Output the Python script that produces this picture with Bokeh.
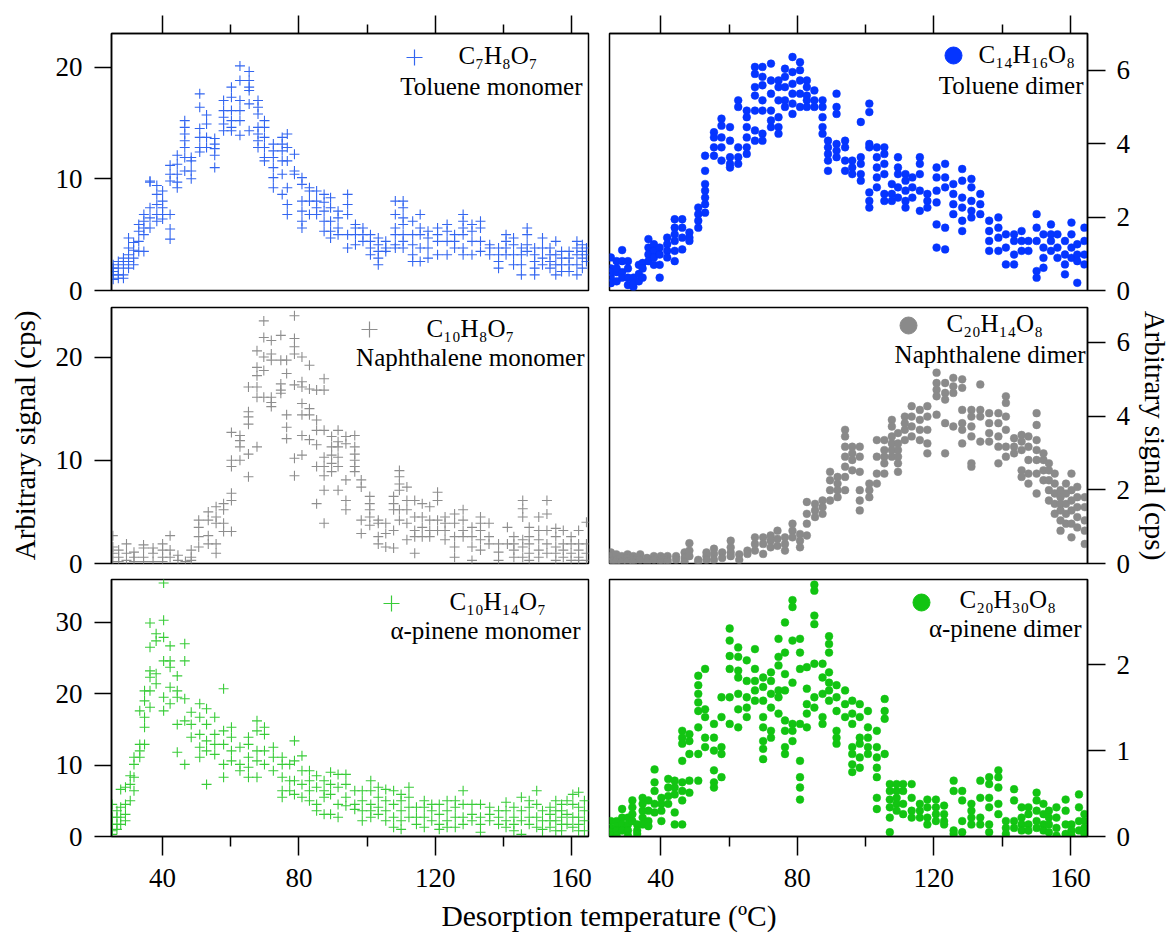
from bokeh.plotting import figure
from bokeh.models import Range1d, FixedTicker, Label
from bokeh.layouts import row, column
from bokeh.embed import file_html
from bokeh.resources import INLINE

FONT = "Liberation Serif"
X_MIN, X_MAX = 25, 165
TEMP_TICKS = [40, 80, 120, 160]
TEMP_MINOR = [60, 100, 140]

# ---------------- data (temperature columns, signal values per column) ----------------
toluene_monomer_temp = [25.5, 27, 28.5, 30, 31.5, 33, 34.5, 36.3, 38.3, 40, 42.2, 44.3, 46.5, 48.4, 50.9,
                        52.9, 55.3, 57.9, 60.2, 62.7, 65.4, 68, 69.9, 72.5, 75.1, 76.6, 78.7, 80.9, 83.1,
                        85.2, 87.4, 89.3, 91.5, 94.3, 96.6, 98.8, 101, 103.3, 105.5, 108.3, 110.6, 113.4,
                        115.6, 117.9, 120.7, 123.5, 125.7, 128.2, 130.8, 133.3, 136, 138.6, 140.8, 143,
                        145.3, 147, 149.2, 151.5, 153.7, 155.4, 157.1, 159.3, 161.6, 163.2, 164.4]
toluene_monomer_signal = [
    [1.4, 2.0, 2.3, 1.7, 1.0], [2.6, 1.4, 1.1, 2.0], [2.9, 2.3, 1.4, 1.1], [3.8, 3.2, 2.6, 2.0, 4.7],
    [4.3, 3.6, 2.9, 2.3], [5.9, 5.3, 4.4, 3.5], [6.8, 6.2, 5.6, 5.0, 3.5], [9.8, 9.7, 7.4, 6.5, 5.6],
    [9.4, 8.6, 7.7, 6.8, 6.2], [8.9, 8.0, 7.4, 6.8, 6.4], [11.2, 10.4, 9.8, 6.8, 5.5, 4.6],
    [12.1, 11.3, 10.4, 9.7, 9.2], [15.2, 14.6, 14.0, 13.4, 12.8, 11.9, 10.7], [11.9, 11.6, 10.7, 10.0],
    [17.6, 16.4, 14.5, 13.7, 12.8, 12.4], [15.7, 14.9, 13.7, 12.8], [13.6, 13.1, 12.7, 12.1, 11.0],
    [17.0, 16.1, 15.5, 14.9, 14.3], [18.2, 17.3, 16.1, 15.2, 14.6, 14.3], [20.1, 18.8, 17.0, 16.1, 15.2, 13.9],
    [19.6, 18.8, 18.2, 17.9, 16.7, 14.3], [17.0, 16.4, 15.8, 14.6, 14.0, 13.4, 12.8],
    [15.2, 14.6, 13.7, 12.8, 11.9, 11.6], [13.1, 12.5, 11.9, 11.0, 10.1, 9.2],
    [13.7, 13.1, 12.5, 11.6, 10.4, 8.6], [14.0, 12.8, 11.6, 9.2, 7.7, 6.8], [12.2, 10.7, 10.4],
    [10.1, 9.5, 8.0, 7.1, 6.2, 5.6], [9.2, 8.9, 8.0, 6.8], [8.9, 8.0, 7.4, 6.8], [8.6, 7.9, 7.1, 6.2, 5.3],
    [8.3, 7.4, 6.2, 5.3, 4.7], [7.1, 6.5, 5.6, 5.0], [8.6, 7.7, 6.8, 5.0, 3.8], [5.9, 5.6, 5.0, 4.1],
    [5.6, 5.0, 4.4], [5.0, 4.4, 3.8, 3.2], [4.7, 4.1, 3.5, 2.9, 2.3], [4.4, 3.8, 3.5],
    [8.0, 6.8, 5.6, 5.0, 4.1, 3.8], [8.0, 7.4, 6.5, 5.9, 5.0, 4.4, 3.8], [6.2, 5.0, 4.1, 3.2, 2.6],
    [6.8, 5.6, 5.0, 3.8, 2.6], [5.3, 4.7, 3.8, 2.9], [5.6, 5.0, 4.4, 3.2], [5.9, 5.3, 4.4, 3.2],
    [5.0, 4.4, 3.8], [6.8, 6.2, 5.6, 5.0, 3.8, 3.2], [5.9, 5.3, 4.4, 3.2], [6.2, 5.6, 4.4, 3.5],
    [4.1, 3.8, 3.2], [3.8, 3.2, 2.6, 2.0], [5.0, 4.4, 3.8, 3.2], [4.7, 4.1, 3.2, 2.3], [3.8, 3.2, 2.3, 1.4],
    [5.6, 5.0, 4.1, 3.5], [3.8, 3.2, 2.6, 2.0, 1.4], [4.7, 3.8, 2.9, 2.3], [3.8, 3.2, 2.6, 2.0],
    [4.4, 3.2, 2.3, 1.4], [3.5, 2.9, 2.3, 1.7], [3.5, 2.9, 2.3, 1.7], [4.4, 3.8, 3.2, 2.3, 1.4],
    [4.1, 3.5, 2.9, 2.0], [3.8, 3.2, 2.6]]

toluene_dimer_temp = [25.4, 27.1, 28.7, 30.4, 32, 33.6, 34.7, 36.4, 38, 39.7, 41.9, 44.1, 46.3, 48.4, 51,
                      53, 55.6, 57.8, 60.3, 62.7, 65.2, 67.6, 69.8, 72.3, 74.5, 76.4, 78.6, 80.8, 82.8,
                      85, 87.4, 89, 91.5, 94, 96.1, 98.6, 101.1, 103.3, 105.5, 107.7, 109.5, 111.7, 113.7,
                      115.9, 118.1, 120.8, 123.3, 125.7, 128.3, 131, 133.6, 136.2, 138.9, 141.1, 143.5,
                      145.7, 147.7, 150.1, 152.1, 154.3, 156.2, 158.4, 160.3, 162, 164.1]
toluene_dimer_signal = [
    [0.9, 0.6, 0.35, 0.2, 0.5], [0.8, 0.5, 0.25, 0.6], [1.1, 0.8, 0.5, 0.35], [0.8, 0.6, 0.35, 0.15],
    [0.35, 0.1, 0.2], [0.7, 0.45, 0.25], [0.75, 0.6, 0.35], [1.4, 1.17, 0.98, 0.8], [1.26, 1.08, 0.9, 0.7],
    [1.17, 0.98, 0.7, 0.35], [1.44, 1.26, 1.08, 0.9], [1.94, 1.71, 1.53, 1.35, 1.08, 0.8],
    [1.94, 1.71, 1.44, 1.12], [1.58, 1.44, 1.35], [2.26, 2.08, 1.9, 1.71],
    [3.67, 3.26, 2.9, 2.72, 2.53, 2.35, 2.12], [4.31, 4.17, 3.9, 3.67], [4.68, 4.49, 4.17, 3.9, 3.54],
    [4.45, 4.08, 3.63, 3.45, 3.35], [5.18, 5.0, 3.9, 3.63, 3.45], [4.9, 4.72, 4.45, 4.17, 3.9, 3.72],
    [6.09, 5.9, 5.54, 5.31, 4.9, 4.36, 4.08], [6.09, 5.82, 5.59, 5.18, 4.9, 4.27, 4.08],
    [6.18, 5.72, 5.36, 4.9, 4.63, 4.45], [5.72, 5.54, 5.18, 4.72, 4.45, 4.27], [6.04, 5.82, 5.54, 5.18, 5.0],
    [6.36, 5.95, 5.63, 5.36, 5.09, 4.81], [6.22, 6.0, 5.72, 5.36, 5.0], [5.72, 5.54, 5.31, 5.18, 5.0],
    [5.45, 5.18, 5.0], [5.18, 5.0, 4.72, 4.45, 4.27], [4.08, 3.9, 3.72, 3.54, 3.26],
    [5.36, 5.0, 4.81, 3.99, 3.81, 3.63], [4.08, 3.9, 3.54, 3.26], [3.54, 3.35, 3.17],
    [4.59, 3.63, 3.45, 3.17, 2.99], [5.09, 4.86, 3.99, 3.9, 2.67, 2.44, 2.26], [3.9, 3.63, 3.35, 3.08, 2.81],
    [3.9, 3.72, 3.45, 3.17, 2.63, 2.44], [2.9, 2.63, 2.44], [3.63, 3.35, 3.17, 2.81, 2.53],
    [3.17, 2.99, 2.72, 2.44, 2.26], [3.08, 2.81, 2.53], [3.63, 3.45, 3.17, 2.72, 2.17], [2.63, 2.44, 2.26],
    [3.35, 3.08, 2.72, 2.4, 1.8, 1.17], [3.45, 3.08, 2.81, 1.71, 1.12], [2.9, 2.63, 2.35, 2.08],
    [3.31, 2.99, 2.53, 2.26, 1.9, 1.62], [3.04, 2.81, 2.44, 2.17, 1.99], [2.63, 2.35, 2.08],
    [1.9, 1.62, 1.35, 1.08], [1.99, 1.71, 1.44, 1.08], [1.53, 1.17, 0.71], [1.53, 1.35, 0.98, 0.71],
    [1.62, 1.35, 1.08], [1.35, 1.08], [2.08, 1.71, 1.35, 0.53, 0.35], [1.53, 1.17, 0.89, 0.62],
    [1.8, 1.53, 1.35, 1.08], [1.53, 1.17, 0.89], [1.35, 0.98, 0.71, 0.44], [1.85, 1.53, 1.17, 0.89],
    [1.26, 0.98, 0.8, 0.21], [1.71, 1.35, 0.98, 0.71]]

naphthalene_monomer_temp = [25.4, 27.1, 29.4, 31.6, 34.4, 37.2, 40, 42.2, 44.5, 46.7, 48.4, 50.6, 53.4, 55.7,
                            57.9, 60.2, 62.7, 65.2, 67.7, 69.7, 71.9, 74.7, 76.4, 78.7, 80.9, 83.1, 85.2,
                            87.4, 89.6, 91.5, 93.8, 96.4, 98.3, 100.8, 103.3, 105.5, 107.8, 109.5, 111.7,
                            114, 116.2, 118.4, 120.7, 122.9, 125.7, 128.2, 130.8, 133.3, 135.8, 138.6,
                            141.2, 143.1, 145.7, 147.6, 150.4, 152.8, 155.4, 157.6, 159.9, 162.1, 164.4]
naphthalene_monomer_signal = [
    [2.7, 1.6, 1.0, 0.2], [1.3, 0.6, 0.2], [1.9, 1.0, 0.3], [1.1, 0.6, 0.2], [1.8, 1.5, 0.6, 0.2],
    [1.5, 1.0, 0.2], [1.9, 1.3, 0.6, 0.2], [2.7, 1.3, 0.6], [0.8, 0.3], [0.2], [1.3, 0.6, 0.3],
    [4.2, 3.5, 2.6, 1.6], [5.0, 4.2, 2.7, 1.9], [5.5, 4.5, 3.9, 1.9, 1.0], [5.8, 5.2, 3.9, 3.1],
    [12.7, 10.0, 9.4, 6.8, 6.1, 3.1], [12.4, 11.9, 11.3, 10.0], [17.1, 14.7, 14.2, 13.5, 10.6, 8.4],
    [20.6, 19.0, 18.2, 17.1, 16.1, 11.3], [23.5, 21.9, 20.0, 18.7, 16.1], [21.6, 20.3, 19.7, 16.1, 15.6, 15.2],
    [22.1, 19.7, 17.4, 16.8, 16.5], [19.7, 18.4, 14.4, 13.2, 12.1], [24.0, 21.8, 21.0, 20.3, 17.3, 10.2, 8.5],
    [20.0, 17.6, 17.1, 15.5, 14.4, 12.4, 10.5], [19.2, 16.9, 15.0, 14.4, 12.0],
    [16.8, 13.9, 12.9, 11.5, 9.4, 5.8], [17.9, 16.8, 12.9, 10.3, 9.4, 8.5, 7.1, 3.9],
    [12.3, 11.3, 10.5, 9.7, 8.9], [12.9, 11.8, 11.3, 10.3, 9.4, 7.1], [12.3, 11.6, 8.1, 6.1, 5.2],
    [12.4, 11.3, 10.6, 10.0, 9.4, 8.9], [8.1, 7.4, 4.2, 2.9], [6.5, 5.8, 5.2, 4.5, 3.7], [4.2, 3.9, 2.6, 1.9],
    [3.9, 2.9, 1.6], [6.5, 5.8, 5.2, 3.2, 1.5], [9.0, 8.4, 7.7, 7.1, 5.2, 4.2], [7.4, 6.1, 5.2, 3.9, 2.3],
    [6.1, 4.5, 3.2, 2.6, 1.0], [5.8, 4.5, 3.5, 2.6], [5.5, 4.2, 3.2, 2.6], [6.9, 6.1, 4.2, 3.2],
    [4.5, 3.9, 3.2, 2.3], [4.8, 3.9, 2.6, 1.6, 0.6], [5.2, 4.2, 3.2, 2.6], [3.5, 2.6, 1.6, 0.3],
    [4.5, 3.9, 3.2, 2.3, 1.3], [3.9, 2.6, 1.9], [1.9, 1.1, 0.3], [3.5, 1.9], [2.6, 1.9, 1.3, 0.6],
    [6.1, 5.3, 4.5, 2.3, 1.6, 0.6], [3.5, 2.6, 1.9, 1.0, 0.3], [4.5, 3.2, 2.3, 1.3, 0.6],
    [6.1, 4.8, 3.2, 1.9, 1.0], [3.4, 2.6, 1.6, 1.0, 0.3], [3.2, 1.9, 1.3, 0.6], [2.6, 1.9, 1.0, 0.3],
    [3.2, 1.9, 1.3, 0.6, 0.3], [4.0, 1.9, 1.0, 0.3]]

naphthalene_dimer_temp = [25.4, 27, 28.6, 30.3, 32, 34, 36, 38, 40, 42, 44.5, 47, 48.4, 51, 53.4, 55.6, 58,
                          60.5, 63, 65.4, 67.6, 70, 72.2, 74.2, 76.4, 78.6, 80.8, 82.8, 85.2, 87.4, 89.6,
                          91.8, 94, 96.1, 98.3, 101.1, 103.3, 105.5, 107.7, 109.5, 111.5, 113.5, 115.9,
                          118.1, 120.8, 123.3, 125.7, 128.3, 131, 133.6, 136.2, 138.9, 141.1, 143.5, 145.7,
                          147.7, 150.1, 152.1, 153.7, 155.4, 157.1, 158.7, 160.3, 162, 164.2]
naphthalene_dimer_signal = [
    [0.3, 0.2, 0.1, 0.05], [0.25, 0.1, 0.03], [0.2, 0.05], [0.25, 0.15, 0.05], [0.2, 0.1, 0.03], [0.25, 0.1],
    [0.15, 0.05], [0.2, 0.1], [0.2, 0.1, 0.03], [0.2, 0.1, 0.05], [0.2, 0.1], [0.3, 0.15, 0.05],
    [0.55, 0.35, 0.2], [0.1, 0.05], [0.3, 0.2, 0.1], [0.4, 0.26, 0.1], [0.3, 0.15], [0.62, 0.44, 0.3, 0.2],
    [0.25, 0.1], [0.35, 0.26], [0.71, 0.53, 0.35], [0.71, 0.53, 0.26], [0.76, 0.62, 0.44],
    [0.89, 0.67, 0.48], [0.71, 0.53, 0.35], [1.08, 0.89, 0.71], [0.8, 0.62, 0.44], [1.67, 1.35, 1.08, 0.76],
    [1.62, 1.44, 1.26], [1.71, 1.53, 1.35], [2.49, 2.26, 1.99, 1.71], [2.35, 2.17, 1.99, 1.8],
    [3.63, 3.45, 3.17, 2.9, 2.63, 2.35, 1.99], [3.17, 2.99, 2.81, 2.53], [3.17, 2.9, 2.49, 1.99, 1.71, 1.44],
    [2.17, 1.99, 1.8], [3.35, 2.9, 2.44, 2.17], [3.35, 3.08, 2.9, 2.72, 2.44],
    [3.9, 3.72, 3.45, 3.26, 3.08, 2.9], [3.54, 3.26, 3.08, 2.9, 2.72, 2.49], [3.99, 3.81, 3.63, 3.35],
    [4.27, 3.99, 3.72, 3.45], [4.17, 3.9, 3.63, 3.35], [4.27, 3.99, 3.63, 3.26, 2.99],
    [5.18, 4.9, 4.72, 4.54, 4.04], [4.9, 4.63, 4.45, 3.81, 2.99], [5.04, 4.81, 4.63, 3.72],
    [5.0, 4.77, 4.17, 3.81, 3.63, 3.26], [4.17, 3.99, 3.72, 3.45, 2.72, 2.63], [4.86, 4.17, 3.99, 3.31],
    [4.08, 3.81, 3.54, 3.31], [4.08, 3.81, 3.45, 3.17, 2.72], [4.54, 4.36, 3.99, 3.63, 3.17, 2.9],
    [3.4, 3.17, 2.99], [3.49, 3.31, 3.08, 2.53, 2.35], [3.45, 3.17, 2.81, 2.44, 2.17],
    [4.08, 3.76, 3.35, 3.08, 2.81, 2.44, 1.9], [2.99, 2.81, 2.53, 2.26], [2.72, 2.53, 2.26, 1.99, 1.71],
    [2.44, 2.17, 1.9, 1.62, 1.35], [1.99, 1.8, 1.62, 1.44, 1.17, 0.89], [2.17, 1.9, 1.62, 1.35, 1.08],
    [2.44, 1.99, 1.71, 1.44, 1.08, 0.71], [2.08, 1.8, 1.53, 1.26, 0.98], [1.8, 1.53, 1.17, 0.89, 0.53]]

pinene_monomer_temp = [25.2, 26.6, 27.7, 29.1, 30.5, 31.6, 33.3, 34.7, 36.3, 38.1, 40.3, 42.2, 44.3, 46.5,
                       48.4, 50.9, 52.9, 55.3, 57.9, 60.2, 62.7, 65.2, 67.7, 69.9, 72.5, 75.1, 77.3, 78.7,
                       80.9, 83.1, 85.2, 87.4, 89.3, 91.5, 93.8, 96.4, 98.6, 101.1, 103.3, 105.5, 107.8,
                       110, 112.3, 114.5, 116.8, 119, 121.2, 123.5, 125.9, 128.2, 130.8, 133.3, 136, 138.6,
                       140.8, 143.1, 145.3, 147.6, 149.8, 151.5, 153.7, 155.4, 157.1, 158.7, 160.4, 162.1,
                       163.8]
pinene_monomer_signal = [
    [4.5, 2.7, 1.7, 0.8, 0.3], [3.6, 2.7, 1.7, 1.0], [6.6, 4.1, 2.7, 1.7], [6.9, 4.5, 3.1, 2.2],
    [8.5, 7.3, 5.0], [11.1, 10.1, 8.3, 6.4], [17.6, 12.9, 12.0, 11.1], [20.4, 19.0, 16.7, 15.3, 12.9],
    [29.9, 26.5, 23.2, 22.3, 20.4, 18.1], [28.4, 27.4, 22.8, 21.4], [35.5, 30.3, 27.9, 24.6, 19.5, 17.6],
    [26.7, 24.6, 23.7, 20.9, 18.6], [22.5, 20.4, 19.5, 15.7, 11.8], [27.0, 24.6, 19.3, 16.2, 10.1],
    [17.4, 15.7, 13.9], [18.6, 16.7, 14.3, 12.5, 11.1], [17.9, 15.7, 13.4, 12.0, 7.3],
    [16.7, 14.3, 12.9, 11.5], [20.7, 14.8, 12.9, 10.1, 8.3], [15.3, 13.9, 12.0, 10.6], [12.5, 10.1, 9.2],
    [13.9, 12.9, 11.1, 9.7, 8.3], [16.2, 14.8, 12.0, 10.6, 8.3], [15.3, 14.3, 12.0, 10.1], [12.5, 11.1, 9.2],
    [11.1, 10.1, 8.3, 6.4, 5.5], [10.1, 7.8, 6.4], [13.4, 10.6, 7.8, 5.9], [11.3, 9.2, 7.3, 5.5],
    [9.2, 7.8, 6.4, 5.0], [8.5, 6.9, 4.5, 3.6], [7.8, 6.4, 5.5, 3.1], [9.0, 7.3, 5.9, 3.1],
    [8.7, 6.9, 4.5, 2.7], [8.7, 7.3, 5.5, 4.3], [6.4, 4.5, 3.8], [6.4, 5.0, 3.6, 2.2],
    [7.8, 6.4, 4.5, 3.6, 2.7], [6.9, 5.5, 4.1, 3.1], [6.6, 5.0, 3.6, 2.2], [6.4, 4.5, 2.7, 1.3],
    [5.9, 5.0, 3.6, 2.2, 1.0], [6.9, 5.5, 4.1, 2.7], [4.1, 2.7, 1.7], [5.0, 4.1, 2.7, 1.3], [4.5, 3.6, 2.2],
    [4.5, 3.1, 1.7, 1.0], [5.0, 3.6, 2.2, 1.3], [5.0, 4.1, 2.7, 1.3], [6.4, 4.5, 2.7, 1.7], [4.5, 3.1, 2.2],
    [4.5, 2.7, 1.7, 0.6], [4.1, 3.1, 2.2], [3.6, 2.7, 1.7], [4.8, 3.6, 2.2, 1.3], [4.1, 2.7, 1.7, 0.8],
    [5.5, 3.6, 2.2, 0.3], [5.0, 4.1, 2.7, 1.7], [6.4, 4.5, 2.7, 1.3], [3.6, 2.2, 1.0, 0.0],
    [4.1, 3.1, 2.2, 1.3], [5.0, 3.6, 2.2, 0.8], [4.5, 3.6, 2.7, 1.7, 0.8], [5.0, 3.1, 1.7],
    [5.9, 4.5, 2.7, 1.3], [6.2, 4.1, 2.7, 1.7, 0.8], [5.0, 3.6, 2.2, 0.8]]

pinene_dimer_temp = [25.4, 27.1, 28.7, 30.4, 31.7, 33.1, 34.7, 36.4, 38.2, 40.2, 42.2, 44.1, 46.3, 48.4, 51,
                     53, 55.6, 57.8, 60.2, 62.7, 65.2, 67.6, 70, 72.3, 74.5, 76.4, 78.6, 80.8, 82.8, 85,
                     87.4, 89.3, 91.5, 94, 96.1, 98.3, 100.7, 103.3, 105.6, 107.1, 109.1, 111, 113.5,
                     115.9, 118.1, 120.6, 123, 125.8, 128.3, 131, 133.6, 136.2, 138.9, 141.1, 143.5,
                     145.7, 147.7, 150.1, 152.1, 153.7, 155.9, 158.6, 160.3, 162.5, 164.1]
pinene_dimer_signal = [
    [0.18, 0.1, 0.05, 0.01], [0.18, 0.12, 0.07, 0.01], [0.32, 0.22, 0.14, 0.07], [0.22, 0.14, 0.07, 0.01],
    [0.42, 0.34, 0.26, 0.18], [0.14, 0.07, 0.03], [0.45, 0.38, 0.3, 0.22, 0.14], [0.42, 0.3, 0.18, 0.12],
    [0.78, 0.63, 0.53, 0.38, 0.28], [0.45, 0.38, 0.3, 0.18], [0.67, 0.57, 0.47, 0.38],
    [0.65, 0.57, 0.49, 0.28, 0.14], [1.23, 1.15, 1.08, 0.88, 0.63, 0.53, 0.42, 0.14],
    [1.19, 1.11, 0.96, 0.65, 0.51], [1.87, 1.76, 1.66, 1.56, 1.46, 1.27, 0.96, 0.65],
    [1.95, 1.48, 1.39, 1.15, 1.04], [1.31, 1.15, 1.0, 0.77, 0.63, 0.57], [1.62, 1.39, 1.04, 0.96, 0.69],
    [2.42, 2.28, 2.1, 1.95, 1.62, 1.31], [2.2, 2.09, 1.93, 1.85, 1.66, 1.48, 1.27],
    [2.05, 1.81, 1.62, 1.5, 1.39], [2.18, 1.95, 1.81, 1.7, 1.58],
    [1.85, 1.74, 1.58, 1.39, 1.27, 1.11, 1.02, 0.9], [1.91, 1.81, 1.66, 1.5, 1.23, 1.15],
    [2.3, 2.09, 1.99, 1.7, 1.62, 1.43], [2.49, 2.14, 1.89, 1.7, 1.35, 1.23, 1.04, 0.96],
    [2.75, 2.67, 2.28, 1.79, 1.31, 1.23, 1.11], [2.3, 2.14, 1.95, 1.31, 0.88, 0.69, 0.57, 0.43],
    [1.97, 1.72, 1.54, 1.43, 1.27], [2.93, 2.86, 2.57, 2.47, 2.01, 1.62, 1.5], [2.01, 1.85, 1.66, 1.39, 1.31],
    [2.33, 2.24, 2.14, 1.91, 1.79, 1.7, 1.58], [1.76, 1.62, 1.46, 1.23, 1.15, 1.08], [1.7, 1.54, 1.39],
    [1.58, 1.43, 1.31, 1.04, 0.96, 0.84, 0.75], [1.54, 1.39, 1.15, 1.08, 0.92, 0.8],
    [1.46, 1.27, 1.15, 1.04, 0.96], [1.23, 1.04, 0.92, 0.8, 0.69, 0.45, 0.32], [1.6, 1.46, 1.37, 0.96],
    [0.61, 0.53, 0.43, 0.34, 0.22, 0.05], [0.61, 0.53, 0.45, 0.38, 0.3], [0.61, 0.53, 0.38, 0.26],
    [0.61, 0.45, 0.3, 0.22], [0.38, 0.3, 0.22], [0.43, 0.34, 0.22, 0.14], [0.43, 0.34, 0.26, 0.18],
    [0.36, 0.26, 0.18, 0.14], [0.65, 0.53, 0.07, 0.03], [0.53, 0.42, 0.18, 0.05], [0.38, 0.3, 0.22, 0.14],
    [0.65, 0.45, 0.22, 0.14], [0.69, 0.61, 0.45, 0.34, 0.14, 0.05], [0.77, 0.69, 0.57, 0.38, 0.26],
    [0.18, 0.1, 0.03], [0.55, 0.42, 0.18, 0.1], [0.34, 0.22, 0.14, 0.07], [0.34, 0.26, 0.14, 0.07],
    [0.51, 0.42, 0.3, 0.18, 0.1], [0.38, 0.26, 0.14, 0.07], [0.3, 0.22, 0.14, 0.05],
    [0.34, 0.22, 0.1, 0.01], [0.43, 0.3, 0.14, 0.03], [0.14, 0.07, 0.01], [0.49, 0.34, 0.18, 0.07],
    [0.26, 0.18, 0.1, 0.03]]

formulas = ["C₇H₈O₇", "C₁₄H₁₆O₈", "C₁₀H₈O₇", "C₂₀H₁₄O₈", "C₁₀H₁₄O₇", "C₂₀H₃₀O₈"]
names = ["Toluene monomer", "Toluene dimer", "Naphthalene monomer", "Naphthalene dimer",
         "α-pinene monomer", "α-pinene dimer"]
y_max = [23, 7.0, 24.8, 6.95, 36, 2.99]
y_ticks = [[0, 10, 20], [0, 2, 4, 6], [0, 10, 20], [0, 2, 4, 6], [0, 10, 20, 30], [0, 1, 2, 3]]
colors = ["#3366f0", "#0535ff", "#8e8e8e", "#8a8a8a", "#38cc38", "#12c412"]

# ---------------- layout / style ----------------
# legend geometry (px inside frame): marker (left, top), formula (left, baseline), name (right gap, baseline)
legend_geom = [
    dict(mk=(303, 24), f=(350, 32), n=(6, 63)),
    dict(mk=(344, 22), f=(372, 31), n=(4, 62)),
    dict(mk=(258, 22), f=(318, 31), n=(4, 60)),
    dict(mk=(299, 18), f=(340, 26), n=(2, 57)),
    dict(mk=(280, 24), f=(341, 32), n=(8, 61)),
    dict(mk=(312, 23), f=(353, 30), n=(6, 59)),
]
LEGEND_FONT = "25px"
LABEL_BASELINE_FIX = 10    # renderer places 'alphabetic' text this much lower than requested

FRAME_W = [477, 478]
FRAME_H = [257, 256, 257]
BORDER_TOP = [33, 20, 20]
BORDER_BOTTOM = [20, 20, 80]
ROW_SHIFT = [0, -23, -24]       # rows overlap (transparent borders) so edge tick labels are not clipped
BORDER_LEFT = [111, 11]
BORDER_RIGHT = [10, 88]


def flatten(temps, signals):
    xs, ys = [], []
    for t, col in zip(temps, signals):
        for v in col:
            xs.append(t)
            ys.append(v)
    return xs, ys


series = [
    flatten(toluene_monomer_temp, toluene_monomer_signal),
    flatten(toluene_dimer_temp, toluene_dimer_signal),
    flatten(naphthalene_monomer_temp, naphthalene_monomer_signal),
    flatten(naphthalene_dimer_temp, naphthalene_dimer_signal),
    flatten(pinene_monomer_temp, pinene_monomer_signal),
    flatten(pinene_dimer_temp, pinene_dimer_signal),
]


def style_axis(ax, tick_out, minor_out, label_size, standoff):
    ax.axis_line_color = "black"
    ax.axis_line_width = 1.5
    ax.major_tick_line_color = "black"
    ax.major_tick_line_width = 1.5
    ax.major_tick_in = 0
    ax.major_tick_out = tick_out
    ax.minor_tick_line_color = "black"
    ax.minor_tick_line_width = 1.5
    ax.minor_tick_in = 0
    ax.minor_tick_out = minor_out
    ax.major_label_text_font = FONT
    ax.major_label_text_font_size = label_size
    ax.major_label_text_color = "black"
    ax.major_label_standoff = standoff


figs = []
for i in range(6):
    r, c = i // 2, i % 2
    fw, fh = FRAME_W[c], FRAME_H[r]
    xloc = "above" if r == 0 else ("below" if r == 2 else None)
    p = figure(title=None, frame_width=fw, frame_height=fh,
               min_border_left=BORDER_LEFT[c], min_border_right=BORDER_RIGHT[c],
               min_border_top=BORDER_TOP[r], min_border_bottom=BORDER_BOTTOM[r],
               x_range=Range1d(X_MIN, X_MAX), y_range=Range1d(0, y_max[i]),
               x_axis_location=xloc, y_axis_location="left" if c == 0 else "right",
               output_backend="svg", toolbar_location=None)
    p.background_fill_color = "white"
    p.border_fill_color = None
    p.outline_line_color = "black"
    p.outline_line_width = 1.5
    p.xgrid.visible = False
    p.ygrid.visible = False

    yax = p.yaxis[0]
    yax.ticker = FixedTicker(ticks=y_ticks[i], minor_ticks=[])
    if c == 0:
        style_axis(yax, 17, 0, "27px", 12)
    else:
        style_axis(yax, 18, 0, "27px", 11)
    if r == 1:
        yax.axis_label = "Arbitrary signal (cps)"
        yax.axis_label_text_font = FONT
        yax.axis_label_text_font_size = "29px"
        yax.axis_label_text_font_style = "normal"
        yax.axis_label_text_color = "black"
        yax.axis_label_standoff = 12 if c == 0 else 6

    if r == 0:
        xax = p.xaxis[0]
        xax.ticker = FixedTicker(ticks=TEMP_TICKS, minor_ticks=TEMP_MINOR)
        style_axis(xax, 18, 9, "0px", 0)
        xax.major_label_overrides = {t: "" for t in TEMP_TICKS}
    elif r == 2:
        xax = p.xaxis[0]
        xax.ticker = FixedTicker(ticks=TEMP_TICKS, minor_ticks=TEMP_MINOR)
        style_axis(xax, 19, 10, "27px", 13)

    xs, ys = series[i]
    if c == 0:
        p.scatter(xs, ys, marker="cross", size=10, line_color=colors[i], line_width=1.1)
    else:
        p.scatter(xs, ys, marker="circle", size=7.8, fill_color=colors[i], line_color=colors[i],
                  line_width=0.5)

    g = legend_geom[i]
    span = X_MAX - X_MIN
    mx = X_MIN + g["mk"][0] / fw * span
    my = y_max[i] * (1 - g["mk"][1] / fh)
    if c == 0:
        p.scatter([mx], [my], marker="cross", size=16, line_color=colors[i], line_width=1.2)
    else:
        p.scatter([mx], [my], marker="circle", size=17, fill_color=colors[i], line_color=colors[i])
    fb = g["f"][1] - LABEL_BASELINE_FIX
    nb = g["n"][1] - LABEL_BASELINE_FIX
    p.add_layout(Label(x=X_MIN + (g["f"][0] - 3) / fw * span, y=y_max[i] * (1 - fb / fh),
                       text=formulas[i], text_font=FONT, text_font_size=LEGEND_FONT,
                       text_align="left", text_baseline="alphabetic", text_color="black"))
    p.add_layout(Label(x=X_MIN + (fw - g["n"][0]) / fw * span, y=y_max[i] * (1 - nb / fh),
                       text=names[i], text_font=FONT, text_font_size=LEGEND_FONT,
                       text_align="right", text_baseline="alphabetic", text_color="black"))
    figs.append(p)

rows = []
for r in range(3):
    rw = row(figs[2 * r], figs[2 * r + 1])
    if ROW_SHIFT[r]:
        rw.margin = (ROW_SHIFT[r], 0, 0, 0)
    rows.append(rw)

# bottom row canvas ends at 579 + 257 + 80 = 916; the title strip overlaps its (empty) lower border
TITLE_H = 37
TITLE_SHIFT = -19
title_fig = figure(title=None, frame_width=1175, frame_height=TITLE_H, min_border=0,
                   x_range=Range1d(0, 1), y_range=Range1d(0, 1),
                   x_axis_location=None, y_axis_location=None,
                   output_backend="svg", toolbar_location=None)
title_fig.outline_line_color = None
title_fig.background_fill_color = None
title_fig.border_fill_color = None
title_fig.xgrid.visible = False
title_fig.ygrid.visible = False
title_fig.margin = (TITLE_SHIFT, 0, 0, 0)
title_fig.add_layout(Label(x=608.5 / 1175, y=19 / TITLE_H, text="Desorption temperature (ºC)",
                           text_font=FONT, text_font_size="29.5px", text_align="center",
                           text_baseline="alphabetic", text_color="black"))

page = column(*rows, title_fig)
open("out.html", "w").write(file_html(page, INLINE))
